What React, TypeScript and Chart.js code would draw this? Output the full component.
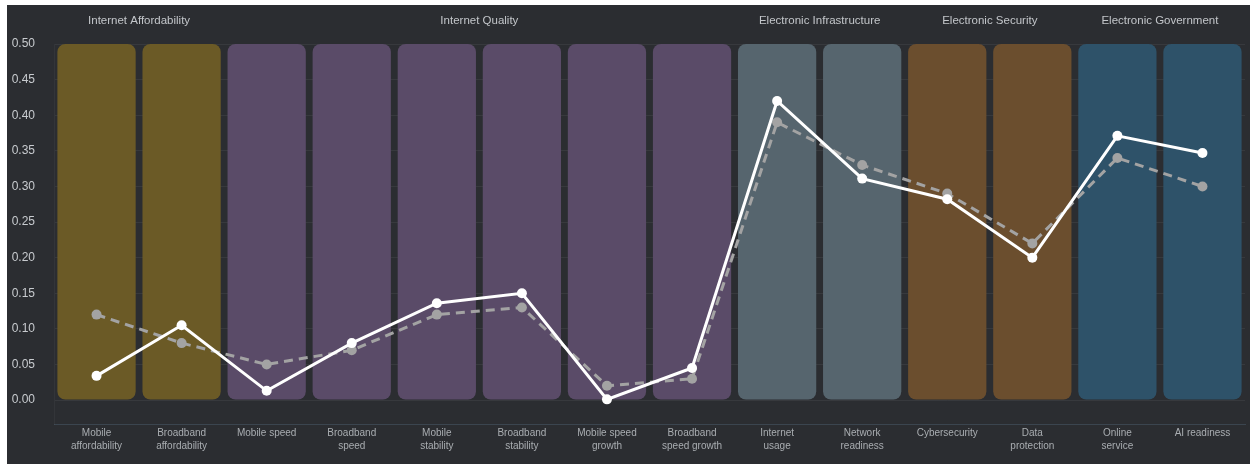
import React, { useEffect, useRef } from "react";
import { Chart, registerables } from "chart.js";

Chart.register(...registerables);

const categories: string[][] = [
  ["Mobile", "affordability"],
  ["Broadband", "affordability"],
  ["Mobile speed"],
  ["Broadband", "speed"],
  ["Mobile", "stability"],
  ["Broadband", "stability"],
  ["Mobile speed", "growth"],
  ["Broadband", "speed growth"],
  ["Internet", "usage"],
  ["Network", "readiness"],
  ["Cybersecurity"],
  ["Data", "protection"],
  ["Online", "service"],
  ["AI readiness"],
];

const groupNames = [
  "Internet Affordability",
  "Internet Quality",
  "Electronic Infrastructure",
  "Electronic Security",
  "Electronic Government",
];
const groupStart = [0, 2, 8, 10, 12];
const groupEnd = [1, 7, 9, 11, 13];
const groupColors = ["#6b5a26", "#5a4b68", "#56656e", "#6b4e2e", "#2e5269"];

const seriesWhite = [0.034, 0.105, 0.013, 0.08, 0.136, 0.15, 0.001, 0.045, 0.42, 0.311, 0.282, 0.2, 0.371, 0.347];
const seriesGray = [0.12, 0.08, 0.05, 0.07, 0.12, 0.13, 0.02, 0.03, 0.39, 0.33, 0.29, 0.22, 0.34, 0.3];
const bandTop = 0.5;

export default function App() {
  const ref = useRef<HTMLCanvasElement | null>(null);
  useEffect(() => {
    if (!ref.current) return;
    const barColors = categories.map((_, i) => {
      const g = groupStart.findIndex((s, k) => i >= s && i <= groupEnd[k]);
      return groupColors[g];
    });
    const groupPlugin = {
      id: "groupLabels",
      afterDraw(chart: any) {
        const ctx = chart.ctx;
        const x = chart.scales.x;
        ctx.save();
        ctx.font = "11.5px 'Liberation Sans', Arial, sans-serif";
        ctx.fillStyle = "#c3c6ca";
        ctx.textAlign = "center";
        ctx.textBaseline = "middle";
        groupNames.forEach((name, k) => {
          const cx = (x.getPixelForValue(groupStart[k]) + x.getPixelForValue(groupEnd[k])) / 2;
          ctx.fillText(name, cx, 16);
        });
        ctx.restore();
      },
    };
    const chart = new Chart(ref.current, {
      type: "bar",
      data: {
        labels: categories as any,
        datasets: [
          {
            type: "line",
            data: seriesWhite,
            borderColor: "#ffffff",
            backgroundColor: "#ffffff",
            borderWidth: 3,
            pointRadius: 5,
            pointBackgroundColor: "#ffffff",
            pointBorderWidth: 0,
            order: 1,
          } as any,
          {
            type: "line",
            data: seriesGray,
            borderColor: "#a3a3a3",
            backgroundColor: "#a3a3a3",
            borderWidth: 3,
            borderDash: [9, 6],
            pointRadius: 5,
            pointBackgroundColor: "#a3a3a3",
            pointBorderWidth: 0,
            order: 2,
          } as any,
          {
            type: "bar",
            data: categories.map(() => bandTop),
            backgroundColor: barColors,
            borderRadius: 8,
            borderSkipped: false,
            categoryPercentage: 0.92,
            barPercentage: 1,
            order: 3,
          } as any,
        ],
      },
      options: {
        animation: false,
        responsive: true,
        maintainAspectRatio: false,
        layout: { padding: { top: 39, left: 0, right: 5, bottom: 8 } },
        plugins: { legend: { display: false }, tooltip: { enabled: false } },
        scales: {
          x: {
            grid: { display: false, drawTicks: false },
            border: { display: true, color: "rgba(70,85,100,0.6)" },
            ticks: {
              color: "#a9adb1",
              font: { size: 10, family: "'Liberation Sans', Arial, sans-serif", lineHeight: 1.3 },
              padding: 3,
              maxRotation: 0,
              autoSkip: false,
            },
          },
          y: {
            min: -0.0336,
            max: 0.5,
            z: 1,
            afterBuildTicks(scale: any) {
              const t = [];
              for (let i = 0; i <= 10; i++) t.push({ value: +(i * 0.05).toFixed(2) });
              scale.ticks = t;
            },
            afterFit(scale: any) {
              scale.width = 47;
            },
            grid: { color: "rgba(255,255,255,0.06)", drawTicks: false },
            border: { display: true, color: "rgba(255,255,255,0.04)" },
            ticks: {
              color: "#c8cbcf",
              font: { size: 12, family: "'Liberation Sans', Arial, sans-serif" },
              padding: 19,
              callback: (v: any) => Number(v).toFixed(2),
            },
          },
        },
      },
      plugins: [groupPlugin],
    });
    return () => chart.destroy();
  }, []);
  return (
    <div style={{ position: "absolute", left: 7, top: 5, width: 1243, height: 459, background: "#2b2d31" }}>
      <canvas ref={ref} />
    </div>
  );
}
